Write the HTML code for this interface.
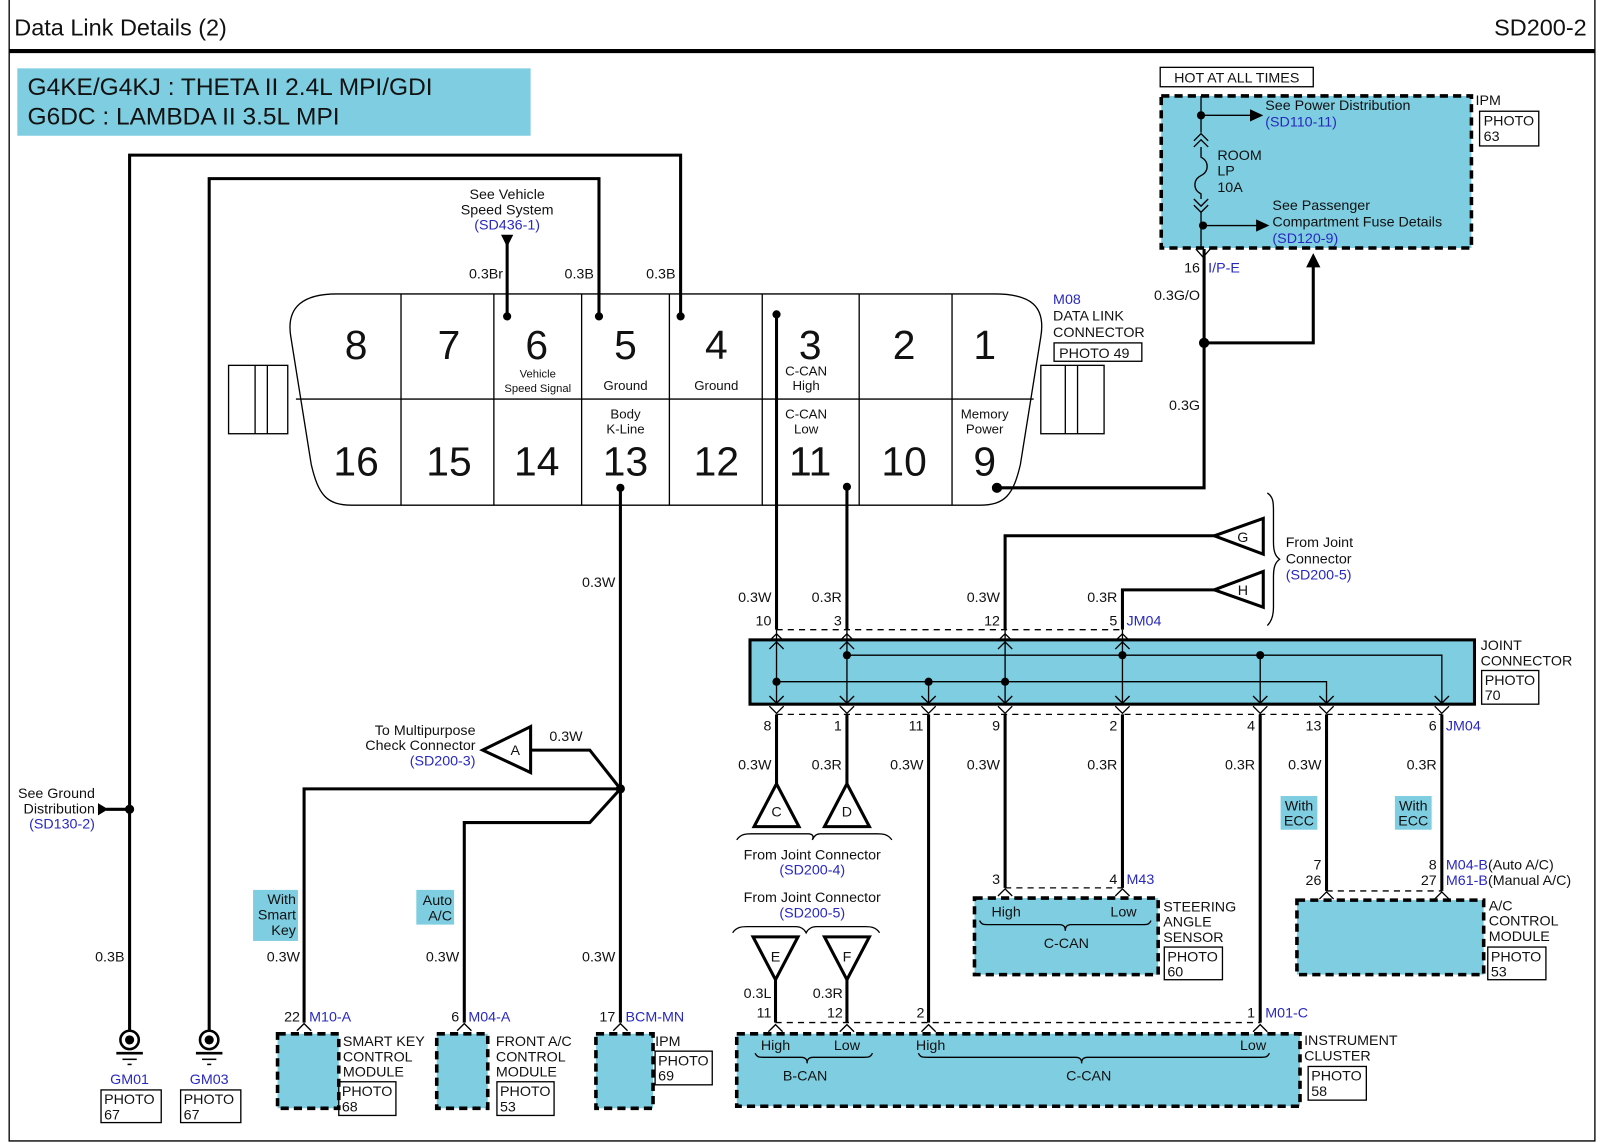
<!DOCTYPE html>
<html><head><meta charset="utf-8"><style>
html,body{margin:0;padding:0;background:#fff;}
svg{display:block;}
text{font-family:"Liberation Sans Narrow","Liberation Sans",sans-serif;font-size:14px;fill:#111;}
.b{fill:#2828c0;}
.w{stroke:#000;stroke-width:3;fill:none;}
.t{stroke:#000;stroke-width:1.3;fill:none;}
.d{stroke:#000;stroke-width:1.3;fill:none;stroke-dasharray:6 5;}
.box{fill:#7ecde0;stroke:#000;stroke-width:3.5;stroke-dasharray:8 5;}
.cy{fill:#7ecde0;}
.pin{font-size:40px;font-family:"Liberation Sans Narrow","Liberation Sans",sans-serif;text-anchor:middle;}
.sm{font-size:13px;text-anchor:middle;}
.m{text-anchor:middle;}
.e{text-anchor:end;}
</style></head><body>
<svg width="1600" height="1143" viewBox="0 0 1568 1120" preserveAspectRatio="none" xmlns="http://www.w3.org/2000/svg">
<rect x="0" y="0" width="1568" height="1120" fill="#fff"/>
<path d="M9 0 V1118 H1563 V0" class="t" stroke-width="2"/>
<line x1="9" y1="50" x2="1563" y2="50" stroke="#000" stroke-width="4"/>
<text x="14" y="35" style="font-family:'Liberation Sans',sans-serif;font-size:23px">Data Link Details (2)</text>
<text x="1555" y="35" class="e" style="font-family:'Liberation Sans',sans-serif;font-size:23px">SD200-2</text>
<rect x="17" y="67" width="503" height="66" class="cy"/>
<text x="27" y="93" style="font-family:'Liberation Sans',sans-serif;font-size:24px">G4KE/G4KJ : THETA II 2.4L MPI/GDI</text>
<text x="27" y="122" style="font-family:'Liberation Sans',sans-serif;font-size:24px">G6DC : LAMBDA II 3.5L MPI</text>

<rect x="1137" y="66" width="150" height="19" fill="#fff" stroke="#000" stroke-width="1.3"/>
<text x="1212" y="81" class="m" style="font-family:'Liberation Sans',sans-serif">HOT AT ALL TIMES</text>
<rect x="1138" y="94" width="304" height="149" class="box"/>
<text x="1446" y="103" style="font-family:'Liberation Sans',sans-serif">IPM</text>
<rect x="1450" y="109" width="58" height="34" fill="#fff" stroke="#000" stroke-width="1.3"/>
<text x="1454" y="123" style="font-family:'Liberation Sans',sans-serif">PHOTO</text><text x="1454" y="138" style="font-family:'Liberation Sans',sans-serif">63</text>
<line x1="1177" y1="94" x2="1177" y2="130" class="t"/>
<path d="M1170 138 l7 -7 l7 7 M1170 144 l7 -7 l7 7" class="t"/>
<path d="M1177 144 v10 c8 4 8 14 0 18 c-8 4 -8 14 0 18 v5" class="t"/>
<path d="M1170 195 l7 7 l7 -7 M1170 201 l7 7 l7 -7" class="t"/>
<line x1="1177" y1="208" x2="1177" y2="243" class="t"/>
<circle cx="1177" cy="113" r="4"/><line x1="1177" y1="113" x2="1228" y2="113" class="t"/><path d="M1225 107 L1238 113 L1225 119Z"/>
<circle cx="1179" cy="221" r="4"/><line x1="1179" y1="221" x2="1234" y2="221" class="t"/><path d="M1231 215 L1244 221 L1231 227Z"/>
<text x="1240" y="108" style="font-family:'Liberation Sans',sans-serif">See Power Distribution</text>
<text x="1240" y="124" class="b" style="font-family:'Liberation Sans',sans-serif">(SD110-11)</text>
<text x="1193" y="157" style="font-family:'Liberation Sans',sans-serif">ROOM</text>
<text x="1193" y="172" style="font-family:'Liberation Sans',sans-serif">LP</text>
<text x="1193" y="188" style="font-family:'Liberation Sans',sans-serif">10A</text>
<text x="1247" y="206" style="font-family:'Liberation Sans',sans-serif">See Passenger</text>
<text x="1247" y="222" style="font-family:'Liberation Sans',sans-serif">Compartment Fuse Details</text>
<text x="1247" y="238" class="b" style="font-family:'Liberation Sans',sans-serif">(SD120-9)</text>
<path d="M1172 244 l7 8 l7 -8" class="t"/>
<text x="1176" y="267" class="e" style="font-family:'Liberation Sans',sans-serif">16</text>
<text x="1184" y="267" class="b" style="font-family:'Liberation Sans',sans-serif">I/P-E</text>
<text x="1176" y="294" class="e" style="font-family:'Liberation Sans',sans-serif">0.3G/O</text>
<text x="1176" y="402" class="e" style="font-family:'Liberation Sans',sans-serif">0.3G</text>
<path d="M1180 244 V478 H977" class="w"/>
<circle cx="1180" cy="336" r="5"/>
<path d="M1180 336 H1287 V258" class="w"/><path d="M1280 262 L1287 248 L1294 262Z"/>

<path d="M127 1010 V152 H667 V310" class="w"/>
<path d="M205 1010 V175 H587 V310" class="w"/>
<line x1="497" y1="236" x2="497" y2="310" class="w"/>
<path d="M491 230 L503 230 L497 242Z"/>
<text x="497" y="195" class="m" style="font-family:'Liberation Sans',sans-serif">See Vehicle</text>
<text x="497" y="210" class="m" style="font-family:'Liberation Sans',sans-serif">Speed System</text>
<text x="497" y="225" class="m b" style="font-family:'Liberation Sans',sans-serif">(SD436-1)</text>
<text x="493" y="273" class="e" style="font-family:'Liberation Sans',sans-serif">0.3Br</text>
<text x="582" y="273" class="e" style="font-family:'Liberation Sans',sans-serif">0.3B</text>
<text x="662" y="273" class="e" style="font-family:'Liberation Sans',sans-serif">0.3B</text>
<circle cx="497" cy="310" r="4"/><circle cx="587" cy="310" r="4"/><circle cx="667" cy="310" r="4"/>

<rect x="224" y="358" width="58" height="67" fill="#fff" class="t"/>
<line x1="250" y1="358" x2="250" y2="425" class="t"/><line x1="262" y1="358" x2="262" y2="425" class="t"/>
<rect x="1020" y="358" width="62" height="67" fill="#fff" class="t"/>
<line x1="1044" y1="358" x2="1044" y2="425" class="t"/><line x1="1056" y1="358" x2="1056" y2="425" class="t"/>
<path d="M330 288 H975 C1010 288 1025 300 1020 330 L1000 455 C993 485 985 495 960 495 H345 C320 495 312 485 305 455 L285 330 C280 300 298 288 330 288Z" fill="#fff" class="t"/>
<line x1="290" y1="391" x2="1013" y2="391" class="t"/>
<g class="t"><line x1="393" y1="288" x2="393" y2="495"/><line x1="484" y1="288" x2="484" y2="495"/><line x1="570" y1="288" x2="570" y2="495"/><line x1="656" y1="288" x2="656" y2="495"/><line x1="747" y1="288" x2="747" y2="495"/><line x1="842" y1="288" x2="842" y2="495"/><line x1="933" y1="288" x2="933" y2="495"/></g>
<text x="349" y="352" class="pin">8</text><text x="440" y="352" class="pin">7</text><text x="526" y="352" class="pin">6</text><text x="613" y="352" class="pin">5</text><text x="702" y="352" class="pin">4</text><text x="794" y="352" class="pin">3</text><text x="886" y="352" class="pin">2</text><text x="965" y="352" class="pin">1</text>
<text x="349" y="466" class="pin">16</text><text x="440" y="466" class="pin">15</text><text x="526" y="466" class="pin">14</text><text x="613" y="466" class="pin">13</text><text x="702" y="466" class="pin">12</text><text x="794" y="466" class="pin">11</text><text x="886" y="466" class="pin">10</text><text x="965" y="466" class="pin">9</text>
<text x="527" y="370" class="m" style="font-size:11px">Vehicle</text>
<text x="527" y="384" class="m" style="font-size:11px">Speed Signal</text>
<text x="613" y="382" class="sm">Ground</text><text x="702" y="382" class="sm">Ground</text>
<text x="790" y="368" class="sm">C-CAN</text><text x="790" y="382" class="sm">High</text>
<text x="613" y="410" class="sm">Body</text><text x="613" y="425" class="sm">K-Line</text>
<text x="790" y="410" class="sm">C-CAN</text><text x="790" y="425" class="sm">Low</text>
<text x="965" y="410" class="sm">Memory</text><text x="965" y="425" class="sm">Power</text>
<circle cx="977" cy="478" r="5"/>
<text x="1032" y="298" class="b" style="font-family:'Liberation Sans',sans-serif">M08</text>
<text x="1032" y="314" style="font-family:'Liberation Sans',sans-serif">DATA LINK</text>
<text x="1032" y="330" style="font-family:'Liberation Sans',sans-serif">CONNECTOR</text>
<rect x="1033" y="336" width="86" height="18" fill="#fff" class="t"/>
<text x="1038" y="351" style="font-family:'Liberation Sans',sans-serif">PHOTO 49</text>

<circle cx="761" cy="308" r="4"/><line x1="761" y1="308" x2="761" y2="617" class="w"/>
<circle cx="830" cy="477" r="4"/><line x1="830" y1="477" x2="830" y2="617" class="w"/>
<circle cx="608" cy="478" r="4"/><line x1="608" y1="478" x2="608" y2="1002" class="w"/>
<text x="603" y="575" class="e">0.3W</text>

<path d="M985 617 V525 H1190" class="w"/>
<path d="M1100 617 V578 H1190" class="w"/>
<path d="M1190 525 L1238 508 V543Z M1190 578 L1238 560 V595Z" fill="#fff" stroke="#000" stroke-width="3"/>
<text x="1218" y="531" class="m">G</text><text x="1218" y="583" class="m">H</text>
<path d="M1242 483 c6 4 6 10 6 18 v30 c0 10 2 14 6 17 c-4 3 -6 7 -6 17 v30 c0 8 -2 14 -6 18" class="t"/>
<text x="1260" y="536">From Joint</text><text x="1260" y="552">Connector</text><text x="1260" y="568" class="b">(SD200-5)</text>

<text x="756" y="590" class="e">0.3W</text><text x="825" y="590" class="e">0.3R</text><text x="980" y="590" class="e">0.3W</text><text x="1095" y="590" class="e">0.3R</text>
<text x="756" y="613" class="e">10</text><text x="825" y="613" class="e">3</text><text x="980" y="613" class="e">12</text><text x="1095" y="613" class="e">5</text>
<text x="1104" y="613" class="b">JM04</text>
<line x1="761" y1="617" x2="1100" y2="617" class="d"/>

<rect x="735" y="627" width="710" height="63" class="cy" stroke="#000" stroke-width="3"/>
<text x="1451" y="637">JOINT</text><text x="1451" y="652">CONNECTOR</text>
<rect x="1452" y="657" width="56" height="33" fill="#fff" class="t"/><text x="1455" y="671">PHOTO</text><text x="1455" y="686">70</text>
<g class="t">
<line x1="761" y1="617" x2="761" y2="690"/><line x1="830" y1="617" x2="830" y2="690"/><line x1="985" y1="617" x2="985" y2="690"/><line x1="1100" y1="617" x2="1100" y2="690"/>
<path d="M830 642 H1413 V690"/><line x1="1235" y1="642" x2="1235" y2="690"/>
<path d="M761 668 H1300 V690"/><line x1="910" y1="668" x2="910" y2="690"/>
</g>
<circle cx="830" cy="642" r="4"/><circle cx="1100" cy="642" r="4"/><circle cx="1235" cy="642" r="4"/>
<circle cx="761" cy="668" r="4"/><circle cx="910" cy="668" r="4"/><circle cx="985" cy="668" r="4"/>
<g class="t">
<path d="M754 636 l7 -7 l7 7 M754 628 l7 -7 l7 7"/><path d="M823 636 l7 -7 l7 7 M823 628 l7 -7 l7 7"/><path d="M978 636 l7 -7 l7 7 M978 628 l7 -7 l7 7"/><path d="M1093 636 l7 -7 l7 7 M1093 628 l7 -7 l7 7"/>
</g>
<g class="t">
<path d="M754 682 l7 7 l7 -7 M754 692 l7 7 l7 -7"/><path d="M823 682 l7 7 l7 -7 M823 692 l7 7 l7 -7"/><path d="M903 682 l7 7 l7 -7 M903 692 l7 7 l7 -7"/><path d="M978 682 l7 7 l7 -7 M978 692 l7 7 l7 -7"/><path d="M1093 682 l7 7 l7 -7 M1093 692 l7 7 l7 -7"/><path d="M1228 682 l7 7 l7 -7 M1228 692 l7 7 l7 -7"/><path d="M1293 682 l7 7 l7 -7 M1293 692 l7 7 l7 -7"/><path d="M1406 682 l7 7 l7 -7 M1406 692 l7 7 l7 -7"/>
</g>
<line x1="761" y1="700" x2="1413" y2="700" class="d"/>
<text x="756" y="716" class="e">8</text><text x="825" y="716" class="e">1</text><text x="905" y="716" class="e">11</text><text x="980" y="716" class="e">9</text><text x="1095" y="716" class="e">2</text><text x="1230" y="716" class="e">4</text><text x="1295" y="716" class="e">13</text><text x="1408" y="716" class="e">6</text>
<text x="1417" y="716" class="b">JM04</text>

<g class="w">
<line x1="761" y1="700" x2="761" y2="768"/><line x1="830" y1="700" x2="830" y2="768"/>
<line x1="910" y1="700" x2="910" y2="1002"/><line x1="985" y1="700" x2="985" y2="870"/><line x1="1100" y1="700" x2="1100" y2="870"/>
<line x1="1235" y1="700" x2="1235" y2="1002"/><line x1="1300" y1="700" x2="1300" y2="873"/><line x1="1413" y1="700" x2="1413" y2="873"/>
</g>
<text x="756" y="754" class="e">0.3W</text><text x="825" y="754" class="e">0.3R</text><text x="905" y="754" class="e">0.3W</text><text x="980" y="754" class="e">0.3W</text><text x="1095" y="754" class="e">0.3R</text><text x="1230" y="754" class="e">0.3R</text><text x="1295" y="754" class="e">0.3W</text><text x="1408" y="754" class="e">0.3R</text>
<path d="M761 768 L739 810 H783Z M830 768 L808 810 H852Z" fill="#fff" stroke="#000" stroke-width="3"/>
<text x="761" y="800" class="m">C</text><text x="830" y="800" class="m">D</text>
<path d="M722 823 c4 -6 10 -6 14 -6 h56 c4 0 6 2 4 6 c2 -4 4 -6 8 -6 h56 c4 0 10 0 14 6" class="t"/>
<text x="796" y="842" class="m">From Joint Connector</text><text x="796" y="857" class="m b">(SD200-4)</text>
<text x="796" y="884" class="m">From Joint Connector</text><text x="796" y="899" class="m b">(SD200-5)</text>
<path d="M718 914 c4 -6 10 -6 14 -6 h48 c4 0 8 2 10 6 c2 -4 6 -6 10 -6 h48 c4 0 10 0 14 6" class="t"/>
<path d="M760 960 L738 918 H782Z M830 960 L808 918 H852Z" fill="#fff" stroke="#000" stroke-width="3"/>
<text x="760" y="942" class="m">E</text><text x="830" y="942" class="m">F</text>
<line x1="760" y1="960" x2="760" y2="1002" class="w"/><line x1="830" y1="960" x2="830" y2="1002" class="w"/>
<text x="756" y="978" class="e">0.3L</text><text x="826" y="978" class="e">0.3R</text>
<text x="756" y="997" class="e">11</text><text x="826" y="997" class="e">12</text><text x="906" y="997" class="e">2</text><text x="1230" y="997" class="e">1</text>
<text x="1240" y="997" class="b">M01-C</text>
<line x1="760" y1="1002" x2="1235" y2="1002" class="d"/>

<rect x="722" y="1013" width="552" height="71" class="box"/>
<g class="t"><path d="M753 1011 l7 -7 l7 7"/><path d="M823 1011 l7 -7 l7 7"/><path d="M903 1011 l7 -7 l7 7"/><path d="M1228 1011 l7 -7 l7 7"/></g>
<text x="760" y="1029" class="m">High</text><text x="830" y="1029" class="m">Low</text><text x="912" y="1029" class="m">High</text><text x="1228" y="1029" class="m">Low</text>
<path d="M740 1032 c2 4 4 4 8 4 h37 c6 0 6 4 6 6 c0 -2 0 -6 6 -6 h50 c4 0 6 0 8 -4" class="t"/>
<path d="M900 1032 c2 4 4 4 8 4 h146 c6 0 6 4 6 6 c0 -2 0 -6 6 -6 h170 c4 0 6 0 8 -4" class="t"/>
<text x="789" y="1059" class="m">B-CAN</text><text x="1067" y="1059" class="m">C-CAN</text>
<text x="1278" y="1024">INSTRUMENT</text><text x="1278" y="1039">CLUSTER</text>
<rect x="1282" y="1045" width="57" height="33" fill="#fff" class="t"/><text x="1285" y="1059">PHOTO</text><text x="1285" y="1074">58</text>

<text x="980" y="866" class="e">3</text><text x="1095" y="866" class="e">4</text><text x="1104" y="866" class="b">M43</text>
<line x1="985" y1="870" x2="1100" y2="870" class="d"/>
<g class="t"><path d="M978 878 l7 -7 l7 7"/><path d="M1093 878 l7 -7 l7 7"/></g>
<rect x="955" y="880" width="180" height="75" class="box"/>
<text x="986" y="898" class="m">High</text><text x="1101" y="898" class="m">Low</text>
<path d="M960 902 c2 4 4 4 8 4 h70 c6 0 6 4 6 6 c0 -2 0 -6 6 -6 h70 c4 0 6 0 8 -4" class="t"/>
<text x="1045" y="929" class="m">C-CAN</text>
<text x="1140" y="893">STEERING</text><text x="1140" y="908">ANGLE</text><text x="1140" y="923">SENSOR</text>
<rect x="1141" y="928" width="57" height="32" fill="#fff" class="t"/><text x="1144" y="942">PHOTO</text><text x="1144" y="957">60</text>

<rect x="1255" y="780" width="36" height="33" class="cy"/><text x="1273" y="794" class="m">With</text><text x="1273" y="809" class="m">ECC</text>
<rect x="1367" y="780" width="36" height="33" class="cy"/><text x="1385" y="794" class="m">With</text><text x="1385" y="809" class="m">ECC</text>
<text x="1295" y="852" class="e">7</text><text x="1295" y="867" class="e">26</text>
<text x="1408" y="852" class="e">8</text><text x="1408" y="867" class="e">27</text>
<text x="1417" y="852"><tspan class="b">M04-B</tspan>(Auto A/C)</text>
<text x="1417" y="867"><tspan class="b">M61-B</tspan>(Manual A/C)</text>
<line x1="1300" y1="873" x2="1413" y2="873" class="d"/>
<g class="t"><path d="M1293 881 l7 -7 l7 7"/><path d="M1406 881 l7 -7 l7 7"/></g>
<rect x="1271" y="882" width="183" height="73" class="box"/>
<text x="1459" y="892">A/C</text><text x="1459" y="907">CONTROL</text><text x="1459" y="922">MODULE</text>
<rect x="1458" y="928" width="57" height="32" fill="#fff" class="t"/><text x="1461" y="942">PHOTO</text><text x="1461" y="957">53</text>

<path d="M520 735 H578 L608 773" class="w"/>
<path d="M520 712 L473 735 L520 757Z" fill="#fff" stroke="#000" stroke-width="3"/>
<text x="505" y="740" class="m">A</text>
<text x="571" y="726" class="e">0.3W</text>
<text x="466" y="720" class="e">To Multipurpose</text><text x="466" y="735" class="e">Check Connector</text><text x="466" y="750" class="e b">(SD200-3)</text>
<circle cx="608" cy="773" r="4.5"/>
<path d="M608 773 H298 V1002" class="w"/>
<path d="M608 773 L578 806 H455 V1002" class="w"/>
<rect x="248" y="872" width="44" height="50" class="cy"/><text x="290" y="886" class="e">With</text><text x="290" y="901" class="e">Smart</text><text x="290" y="916" class="e">Key</text>
<rect x="408" y="872" width="37" height="34" class="cy"/><text x="443" y="887" class="e">Auto</text><text x="443" y="902" class="e">A/C</text>
<text x="294" y="942" class="e">0.3W</text><text x="450" y="942" class="e">0.3W</text><text x="603" y="942" class="e">0.3W</text><text x="122" y="942" class="e">0.3B</text>
<text x="294" y="1001" class="e">22</text><text x="303" y="1001" class="b">M10-A</text>
<text x="450" y="1001" class="e">6</text><text x="459" y="1001" class="b">M04-A</text>
<text x="603" y="1001" class="e">17</text><text x="613" y="1001" class="b">BCM-MN</text>
<g class="t"><path d="M291 1010 l7 -7 l7 7"/><path d="M448 1010 l7 -7 l7 7"/><path d="M601 1010 l7 -7 l7 7"/></g>
<rect x="272" y="1013" width="60" height="73" class="box"/>
<rect x="428" y="1013" width="50" height="73" class="box"/>
<rect x="584" y="1013" width="56" height="73" class="box"/>
<text x="336" y="1025">SMART KEY</text><text x="336" y="1040">CONTROL</text><text x="336" y="1055">MODULE</text>
<rect x="332" y="1060" width="56" height="33" fill="#fff" class="t"/><text x="335" y="1074">PHOTO</text><text x="335" y="1089">68</text>
<text x="486" y="1025">FRONT A/C</text><text x="486" y="1040">CONTROL</text><text x="486" y="1055">MODULE</text>
<rect x="487" y="1060" width="56" height="33" fill="#fff" class="t"/><text x="490" y="1074">PHOTO</text><text x="490" y="1089">53</text>
<text x="642" y="1025">IPM</text>
<rect x="642" y="1030" width="56" height="33" fill="#fff" class="t"/><text x="645" y="1044">PHOTO</text><text x="645" y="1059">69</text>

<circle cx="127" cy="793" r="4.5"/><line x1="104" y1="793" x2="127" y2="793" class="w"/>
<path d="M96 787 L106 793 L96 799Z"/>
<text x="93" y="782" class="e">See Ground</text><text x="93" y="797" class="e">Distribution</text><text x="93" y="812" class="e b">(SD130-2)</text>
<g>
<circle cx="127" cy="1019" r="9" fill="#fff" stroke="#000" stroke-width="2.5"/><circle cx="127" cy="1019" r="4.5"/>
<line x1="114" y1="1032" x2="140" y2="1032" stroke="#000" stroke-width="2.5"/><line x1="120" y1="1038" x2="134" y2="1038" stroke="#000" stroke-width="1.5"/><line x1="125" y1="1043" x2="129" y2="1043" stroke="#000" stroke-width="1.5"/>
<circle cx="205" cy="1019" r="9" fill="#fff" stroke="#000" stroke-width="2.5"/><circle cx="205" cy="1019" r="4.5"/>
<line x1="192" y1="1032" x2="218" y2="1032" stroke="#000" stroke-width="2.5"/><line x1="198" y1="1038" x2="212" y2="1038" stroke="#000" stroke-width="1.5"/><line x1="203" y1="1043" x2="207" y2="1043" stroke="#000" stroke-width="1.5"/>
</g>
<text x="127" y="1062" class="m b">GM01</text><text x="205" y="1062" class="m b">GM03</text>
<rect x="99" y="1068" width="59" height="32" fill="#fff" class="t"/><text x="102" y="1082">PHOTO</text><text x="102" y="1097">67</text>
<rect x="177" y="1068" width="59" height="32" fill="#fff" class="t"/><text x="180" y="1082">PHOTO</text><text x="180" y="1097">67</text>
</svg>
</body></html>
